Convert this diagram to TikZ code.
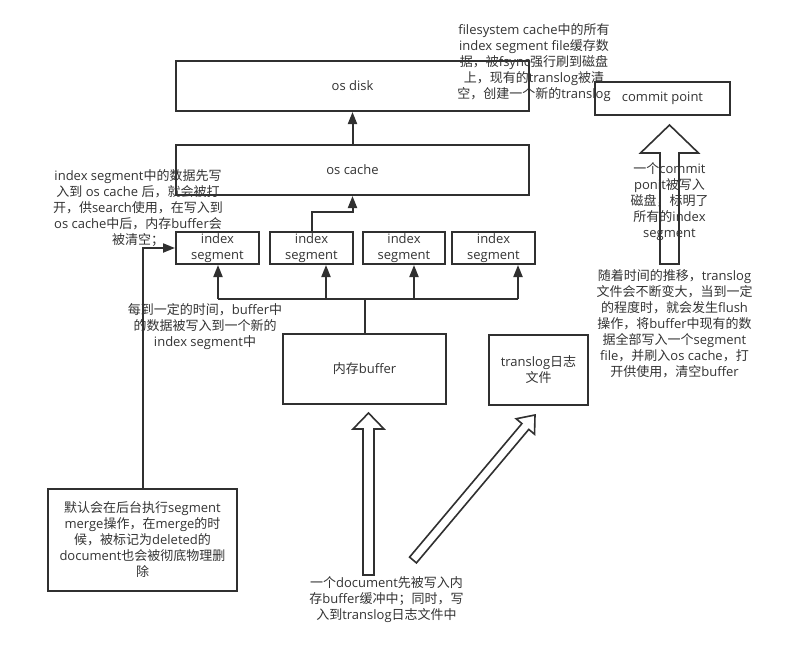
\documentclass[tikz,border=0pt]{standalone}
\usepackage{fontspec}
\setmainfont{Open Sans}
\newfontfamily\cjkfont{Noto Sans CJK SC}
\newfontfamily\latfont{Open Sans}
\usetikzlibrary{arrows.meta,calc}
\XeTeXinterchartokenstate=1
\chardef\cjkcls=10
\newcount\cjkc
\cjkc="3000
\loop\XeTeXcharclass\cjkc=\cjkcls\advance\cjkc by 1 \ifnum\cjkc<"3040 \repeat
\cjkc="4E00
\loop\XeTeXcharclass\cjkc=\cjkcls\advance\cjkc by 1 \ifnum\cjkc<"A000 \repeat
\cjkc="FF00
\loop\XeTeXcharclass\cjkc=\cjkcls\advance\cjkc by 1 \ifnum\cjkc<"FFF0 \repeat
\XeTeXinterchartoks 0 \cjkcls = {\cjkfont}
\XeTeXinterchartoks 4095 \cjkcls = {\cjkfont}
\XeTeXinterchartoks \cjkcls 0 = {\latfont}
\XeTeXinterchartoks \cjkcls 4095 = {\latfont}
\definecolor{lncol}{HTML}{303030}
\definecolor{txtcol}{HTML}{333333}
\tikzset{
  boxnode/.style={draw=lncol, line width=2pt, inner sep=0pt, align=center, text=txtcol},
  lbl/.style={align=center, inner sep=0pt, text=txtcol},
  arr/.style={draw=lncol, line width=2pt, -{Triangle[length=12pt,width=9pt]}},
  plain/.style={draw=lncol, line width=2pt},
  hollow/.style={draw=lncol, line width=1.6pt, line join=miter, fill=white}
}
\newcommand\hollowarr[5]{%
  \coordinate (hb) at ($(#2)!#5!(#1)$);
  \draw[hollow] ($(#1)!#3!90:(#2)$) -- ($(hb)!#3!90:(#2)$) -- ($(hb)!#4!90:(#2)$) -- (#2)
    -- ($(hb)!#4!-90:(#2)$) -- ($(hb)!#3!-90:(#2)$) -- ($(#1)!#3!-90:(#2)$) -- cycle;}
\begin{document}
\begin{tikzpicture}[x=1pt, y=-1pt, font=\fontsize{13pt}{16pt}\selectfont]
\fill[white] (0,0) rectangle (786,656);
\useasboundingbox (0,0) rectangle (786,656);

% boxes
\node[boxnode, minimum width=353pt, minimum height=50pt] (disk) at (352.5,86) {os disk};
\node[boxnode, minimum width=353pt, minimum height=50pt] (cache) at (352.5,170) {os cache};
\node[boxnode, minimum width=83pt, minimum height=32pt] (s1) at (217.5,248) {index\\segment};
\node[boxnode, minimum width=83pt, minimum height=32pt] (s2) at (311.5,248) {index\\segment};
\node[boxnode, minimum width=82pt, minimum height=32pt] (s3) at (404,248) {index\\segment};
\node[boxnode, minimum width=83pt, minimum height=32pt] (s4) at (493.5,248) {index\\segment};
\node[boxnode, minimum width=163pt, minimum height=70pt] (buf) at (364.5,369) {内存buffer};
\node[boxnode, minimum width=99pt, minimum height=70pt] (tlog) at (538.5,370) {translog日志\\文件};
\node[boxnode, minimum width=135pt, minimum height=33pt] (commit) at (662.5,98.5) {commit point};
\node[boxnode, minimum width=189pt, minimum height=102pt] (merge) at (142.5,540) {默认会在后台执行segment\\merge操作，在merge的时\\候，被标记为deleted的\\document也会被彻底物理删\\除};

% connectors
\draw[arr] (cache.north) -- (disk.south);
\draw[arr] (s2.north) -- ++(0,-19) -| (cache.south);
\coordinate (b1) at (218,299);
\coordinate (b2) at (326,299);
\coordinate (b3) at (414,299);
\coordinate (b4) at (518,299);
\draw[plain] (buf.north) -- (buf.north |- b1);
\draw[plain] (b1) -- (b4);
\draw[arr] (b1) -- (b1 |- s1.south);
\draw[arr] (b2) -- (b2 |- s2.south);
\draw[arr] (b3) -- (b3 |- s3.south);
\draw[arr] (b4) -- (b4 |- s4.south);
\draw[arr] (merge.north) |- (s1.west);

% hollow arrows
\coordinate (h1s) at (368.5,575);
\coordinate (h1t) at (368.5,413);
\hollowarr{h1s}{h1t}{5.5pt}{15.5pt}{16pt}
\coordinate (h2s) at (413,560);
\coordinate (h2t) at (535,415);
\hollowarr{h2s}{h2t}{4.5pt}{12pt}{15pt}
\coordinate (h3s) at (669.5,264);
\coordinate (h3t) at (669.5,125);
\hollowarr{h3s}{h3t}{9.5pt}{29pt}{28pt}

% free texts
\node[lbl] (t1) at (534,62.5) {filesystem cache中的所有\\index segment file缓存数\\据，被fsync强行刷到磁盘\\上，现有的translog被清\\空，创建一个新的translog};
\node[lbl] (t2) at (138,208) {index segment中的数据先写\\入到 os cache 后，就会被打\\开，供search使用，在写入到\\os cache中后，内存buffer会\\被清空；};
\node[lbl] (t3) at (205,327) {每到一定的时间，buffer中\\的数据被写入到一个新的\\index segment中};
\node[lbl] (t4) at (669.5,202) {一个commit\\ponit被写入\\磁盘，标明了\\所有的index\\segment};
\node[lbl] (t5) at (674.5,323.5) {随着时间的推移，translog\\文件会不断变大，当到一定\\的程度时，就会发生flush\\操作，将buffer中现有的数\\据全部写入一个segment\\file，并刷入os cache，打\\开供使用，清空buffer};
\node[lbl] (t6) at (386.5,600) {一个document先被写入内\\存buffer缓冲中；同时，写\\入到translog日志文件中};
\end{tikzpicture}
\end{document}
